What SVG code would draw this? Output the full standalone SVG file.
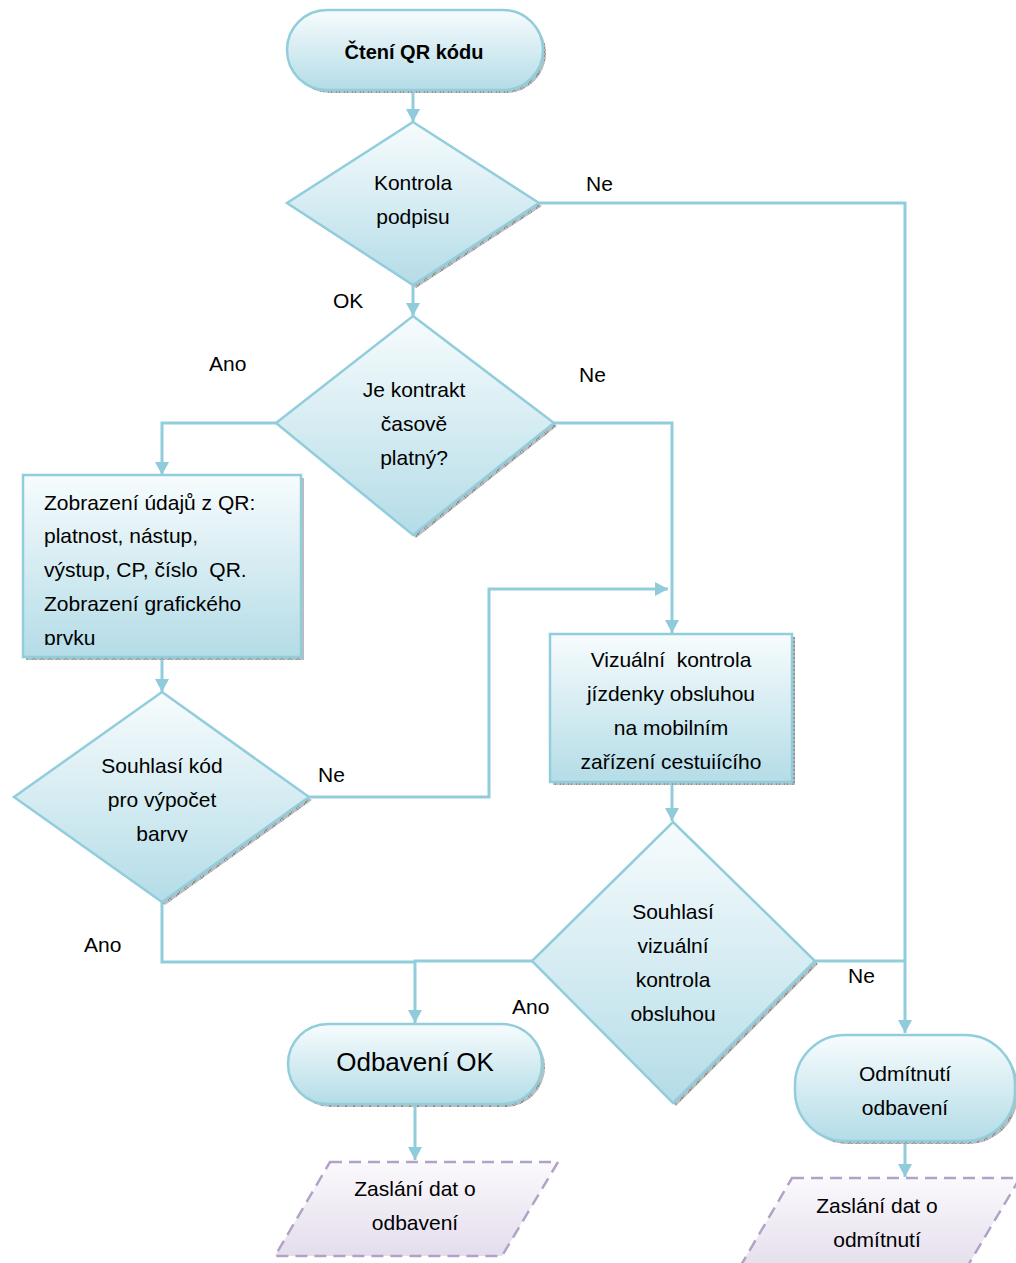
<svg xmlns="http://www.w3.org/2000/svg" width="1016" height="1263" viewBox="0 0 1016 1263">
  <defs>
    <linearGradient id="nodeFill" x1="0" y1="0" x2="0" y2="1">
      <stop offset="0" stop-color="#F7FCFD"/>
      <stop offset="1" stop-color="#B4DCE7"/>
    </linearGradient>
    <linearGradient id="dataFill" x1="0" y1="0" x2="0" y2="1">
      <stop offset="0" stop-color="#FAF9FC"/>
      <stop offset="1" stop-color="#E4DDEC"/>
    </linearGradient>
    <pattern id="hatch" width="8" height="4" patternUnits="userSpaceOnUse">
      <rect width="8" height="4" fill="#B8BDBF"/>
      <path d="M0,0 L4,4 M4,0 L0,4" stroke="#7D8487" stroke-width="0.8"/>
    </pattern>
    <marker id="arrow" markerWidth="14" markerHeight="14" refX="13" refY="7" orient="auto" markerUnits="userSpaceOnUse">
      <path d="M0,0 L13,7 L0,14 Z" fill="#8FCBDA"/>
    </marker>
    <clipPath id="clipBox1">
      <rect x="23" y="475" width="278" height="170"/>
    </clipPath>
    <clipPath id="clipDia3">
      <rect x="0" y="680" width="320" height="162"/>
    </clipPath>
  </defs>
  <style>
    .node { fill: url(#nodeFill); stroke: #92CDDC; stroke-width: 2.5; }
    .shadow { fill: url(#hatch); }
    .data { fill: url(#dataFill); stroke: #B3A2C7; stroke-width: 2.5; stroke-dasharray: 12 7; }
    .conn { fill: none; stroke: #92CDDC; stroke-width: 3; }
    .t { font-family: "Liberation Sans", Arial, sans-serif; font-size: 21px; fill: #000; white-space: pre; }
    .c { text-anchor: middle; }
  </style>

  <!-- connectors -->
  <g id="connectors">
    <path class="conn" d="M413,90 V122" marker-end="url(#arrow)"/>
    <path class="conn" d="M539,203 H905 V1033" marker-end="url(#arrow)"/>
    <path class="conn" d="M413,285 V316" marker-end="url(#arrow)"/>
    <path class="conn" d="M276,423 H162 V475" marker-end="url(#arrow)"/>
    <path class="conn" d="M554,423 H672 V633" marker-end="url(#arrow)"/>
    <path class="conn" d="M162,657 V692" marker-end="url(#arrow)"/>
    <path class="conn" d="M309,797 H489 V589 H668" marker-end="url(#arrow)"/>
    <path class="conn" d="M672,782 V821" marker-end="url(#arrow)"/>
    <path class="conn" d="M162,902 V962 H415"/>
    <path class="conn" d="M532,961 H415 V1023" marker-end="url(#arrow)"/>
    <path class="conn" d="M815,961 H905"/>
    <path class="conn" d="M415,1104 V1160" marker-end="url(#arrow)"/>
    <path class="conn" d="M905,1141 V1177" marker-end="url(#arrow)"/>
    <text class="t" x="586" y="191">Ne</text>
    <text class="t" x="333" y="308">OK</text>
    <text class="t" x="209" y="371">Ano</text>
    <text class="t" x="579" y="382">Ne</text>
    <text class="t" x="318" y="782">Ne</text>
    <text class="t" x="84" y="952">Ano</text>
    <text class="t" x="512" y="1014">Ano</text>
    <text class="t" x="848" y="983">Ne</text>
  </g>

  <!-- start -->
  <g id="start">
    <rect class="shadow" x="290" y="13" width="256" height="80" rx="40"/>
    <rect class="node" x="287" y="10" width="256" height="80" rx="40"/>
    <text class="t c" x="414" y="59" style="font-weight:bold;font-size:20px">Čtení QR kódu</text>
  </g>

  <!-- signature check -->
  <g id="check-signature">
    <polygon class="shadow" points="416,125 542,206 416,288 290,206"/>
    <polygon class="node" points="413,122 539,203 413,285 287,203"/>
    <text class="t c" x="413" y="190">Kontrola</text>
    <text class="t c" x="413" y="224">podpisu</text>
  </g>

  <!-- contract validity -->
  <g id="check-validity">
    <polygon class="shadow" points="416,319 557,426 416,538 279,426"/>
    <polygon class="node" points="413,316 554,423 413,535 276,423"/>
    <text class="t c" x="414" y="397">Je kontrakt</text>
    <text class="t c" x="414" y="431">časově</text>
    <text class="t c" x="414" y="465">platný?</text>
  </g>

  <!-- QR data display -->
  <g id="show-data">
    <rect class="shadow" x="26" y="478" width="278" height="182"/>
    <rect class="node" x="23" y="475" width="278" height="182"/>
    <g clip-path="url(#clipBox1)">
      <text class="t" x="44" y="510">Zobrazení údajů z QR:</text>
      <text class="t" x="44" y="543">platnost, nástup,</text>
      <text class="t" x="44" y="577">výstup, CP, číslo  QR.</text>
      <text class="t" x="44" y="611">Zobrazení grafického</text>
      <text class="t" x="44" y="645">prvku</text>
    </g>
  </g>

  <!-- colour code check -->
  <g id="check-colour">
    <polygon class="shadow" points="165,695 312,800 165,905 17,800"/>
    <polygon class="node" points="162,692 309,797 162,902 14,797"/>
    <g clip-path="url(#clipDia3)">
      <text class="t c" x="162" y="773">Souhlasí kód</text>
      <text class="t c" x="162" y="807">pro výpočet</text>
      <text class="t c" x="162" y="841">barvy</text>
    </g>
  </g>

  <!-- visual check -->
  <g id="visual-check">
    <rect class="shadow" x="553" y="637" width="242" height="148"/>
    <rect class="node" x="550" y="634" width="242" height="148"/>
    <text class="t c" x="671" y="667">Vizuální  kontrola</text>
    <text class="t c" x="671" y="701">jízdenky obsluhou</text>
    <text class="t c" x="671" y="735">na mobilním</text>
    <text class="t c" x="671" y="769">zařízení cestuiícího</text>
  </g>

  <!-- visual check result -->
  <g id="check-visual">
    <polygon class="shadow" points="676,825 818,964 676,1106 535,964"/>
    <polygon class="node" points="673,822 815,961 673,1103 532,961"/>
    <text class="t c" x="673" y="919">Souhlasí</text>
    <text class="t c" x="673" y="953">vizuální</text>
    <text class="t c" x="673" y="987">kontrola</text>
    <text class="t c" x="673" y="1021">obsluhou</text>
  </g>

  <!-- accepted -->
  <g id="accepted">
    <rect class="shadow" x="291" y="1027" width="254" height="80" rx="40"/>
    <rect class="node" x="288" y="1024" width="254" height="80" rx="40"/>
    <text class="t c" x="415" y="1071" style="font-size:26px">Odbavení OK</text>
  </g>

  <!-- rejected -->
  <g id="rejected">
    <rect class="shadow" x="798" y="1038" width="220" height="106" rx="50"/>
    <rect class="node" x="795" y="1035" width="220" height="106" rx="50"/>
    <text class="t c" x="905" y="1081">Odmítnutí</text>
    <text class="t c" x="905" y="1115">odbavení</text>
  </g>

  <!-- send accepted data -->
  <g id="send-accepted">
    <polygon class="data" points="330,1162 558,1162 502,1256 275,1256"/>
    <text class="t c" x="415" y="1196">Zaslání dat o</text>
    <text class="t c" x="415" y="1230">odbavení</text>
  </g>

  <!-- send rejected data -->
  <g id="send-rejected">
    <polygon class="data" points="792,1178 1020,1178 964,1272 737,1272"/>
    <text class="t c" x="877" y="1213">Zaslání dat o</text>
    <text class="t c" x="877" y="1247">odmítnutí</text>
  </g>
</svg>
